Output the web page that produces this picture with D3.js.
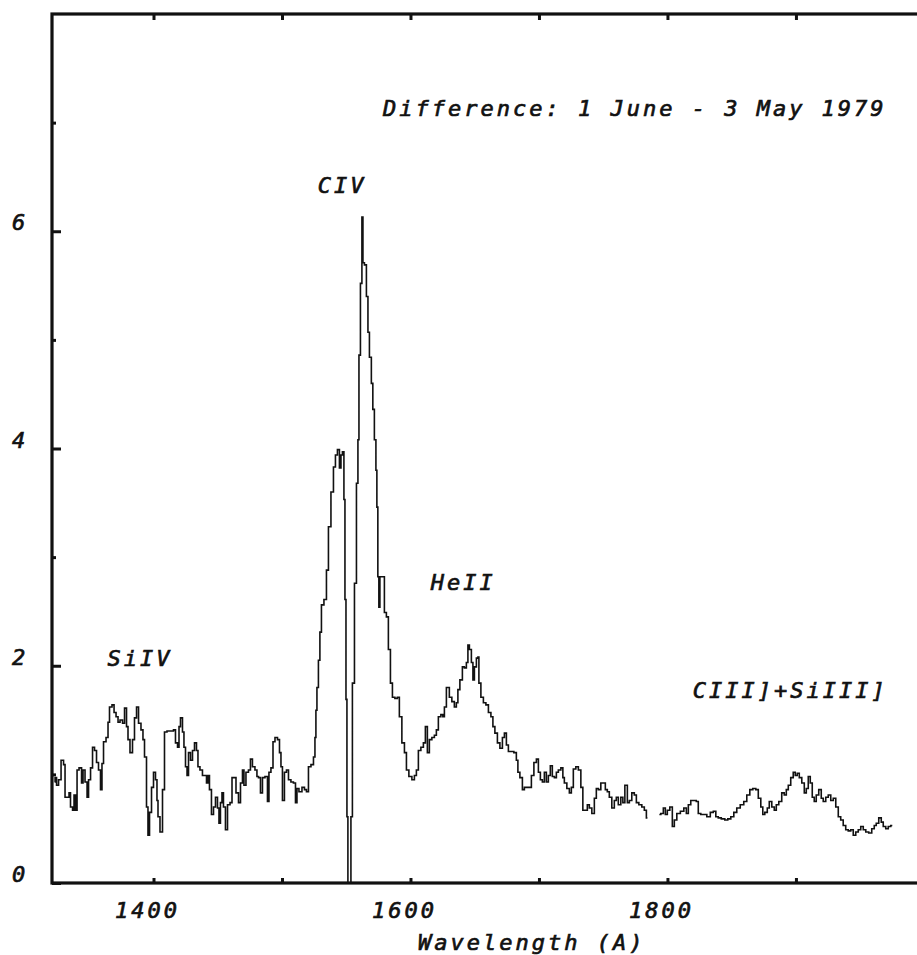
<!DOCTYPE html>
<html>
<head>
<meta charset="utf-8">
<script src="https://cdn.jsdelivr.net/npm/d3@7"></script>
<style>
  html, body { margin: 0; padding: 0; background: #fff; }
  svg { display: block; }
  text { font-family: "DejaVu Sans Mono", monospace; font-style: italic; fill: #111; stroke: #111; stroke-width: 0.7px; letter-spacing: 3px; }
</style>
</head>
<body>
<svg id="chart" width="917" height="955"></svg>
<script>
// Difference spectrum, wavelength in Angstrom, flux in plot units
const wavelength = [
  1323.0,1323.8,1325.3,1326.9,1329.2,1330.8,1331.5,1333.9,1334.6,1336.2,1337.8,1338.5,1340.1,1340.9,1343.2,1344.8,1345.5,1347.9,1348.7,1350.2,
  1351.8,1353.3,1354.9,1356.4,1358.0,1359.5,1360.3,1361.9,1364.2,1365.0,1366.5,1368.9,1369.7,1372.0,1372.8,1375.1,1376.7,1378.2,1379.8,1380.5,
  1382.9,1384.4,1386.0,1387.6,1389.1,1391.4,1392.2,1393.8,1395.3,1396.1,1397.7,1399.2,1400.8,1402.3,1403.1,1403.9,1406.2,1407.8,1409.3,1411.7,
  1414.8,1416.3,1417.9,1419.5,1420.2,1421.8,1423.3,1424.1,1425.7,1426.5,1428.0,1429.6,1431.1,1432.7,1434.2,1435.0,1437.3,1438.9,1440.5,1442.0,
  1442.8,1444.3,1445.9,1447.5,1449.0,1450.6,1451.3,1452.9,1453.7,1455.2,1456.8,1458.4,1460.7,1461.5,1463.0,1465.4,1466.9,1468.5,1470.0,1470.8,
  1473.1,1474.7,1476.2,1477.8,1480.1,1480.9,1482.5,1484.0,1485.6,1487.9,1489.5,1490.2,1492.6,1493.4,1495.7,1497.3,1498.8,1499.6,1501.1,1502.7,
  1504.3,1505.8,1508.1,1509.7,1511.3,1512.0,1514.4,1516.7,1518.3,1519.8,1521.4,1523.7,1525.3,1526.0,1526.8,1527.6,1529.1,1529.9,1531.5,1533.8,
  1535.4,1536.9,1539.3,1540.8,1542.4,1543.9,1545.5,1546.3,1547.8,1548.6,1549.4,1550.2,1550.9,1551.7,1553.3,1554.0,1555.6,1557.2,1558.7,1559.5,
  1560.3,1561.8,1562.6,1563.4,1564.9,1566.5,1567.3,1568.8,1570.3,1571.1,1572.7,1573.5,1574.2,1575.0,1575.8,1576.6,1578.9,1580.5,1582.0,1583.6,
  1585.2,1586.7,1589.0,1590.6,1592.1,1594.5,1596.1,1597.6,1599.9,1602.3,1603.8,1605.4,1606.9,1609.3,1610.8,1612.4,1613.9,1615.5,1617.8,1619.4,
  1620.9,1622.5,1624.8,1625.6,1627.2,1628.7,1629.5,1631.0,1633.4,1634.9,1636.5,1637.3,1639.6,1641.2,1642.7,1644.3,1645.1,1646.6,1648.2,1649.0,
  1650.5,1652.1,1652.9,1653.6,1656.0,1657.5,1659.9,1661.4,1663.8,1664.5,1666.9,1668.4,1670.8,1672.3,1673.9,1675.4,1677.0,1679.3,1681.6,1683.2,
  1684.0,1686.3,1687.9,1689.4,1691.0,1693.3,1694.9,1697.2,1698.8,1700.3,1701.9,1703.4,1705.0,1706.5,1708.1,1709.6,1711.2,1712.8,1714.3,1715.9,
  1718.2,1719.0,1720.5,1722.9,1724.4,1726.0,1727.5,1729.9,1731.4,1733.8,1734.5,1736.9,1738.4,1740.0,1742.3,1743.9,1745.4,1747.0,1749.3,1750.9,
  1752.4,1754.0,1755.5,1757.9,1759.4,1761.0,1762.5,1764.9,1765.7,1768.0,1769.6,1771.1,1773.4,1775.0,1776.6,1778.9,1781.2,1782.8,1784.4,1789.0,
  1793.7,1796.0,1797.6,1799.1,1800.7,1803.0,1804.6,1806.1,1808.5,1811.6,1813.9,1815.5,1817.0,1819.3,1821.7,1823.2,1824.8,1827.1,1829.5,1831.8,
  1834.9,1836.5,1838.8,1840.3,1843.5,1845.8,1848.1,1850.5,1852.8,1855.1,1858.2,1860.6,1862.9,1865.3,1867.6,1869.9,1871.5,1873.8,1874.6,1876.9,
  1878.5,1880.0,1882.4,1883.9,1885.5,1887.8,1890.1,1891.7,1893.3,1894.8,1897.1,1898.7,1900.2,1901.8,1903.4,1905.7,1907.3,1908.8,1910.4,1911.9,
  1913.5,1915.0,1916.6,1918.9,1920.5,1922.0,1924.4,1925.9,1928.3,1929.8,1932.2,1933.7,1936.0,1937.6,1939.9,1941.5,1943.8,1945.4,1947.7,1949.3,
  1951.6,1953.2,1955.5,1957.8,1960.2,1961.7,1963.3,1965.6,1967.2,1968.7,1971.1,1972.6,1975.0
];
const flux = [
  0.93,0.97,0.90,0.95,1.13,1.09,0.79,0.79,0.83,0.70,0.67,0.81,0.67,1.04,1.06,0.92,1.04,0.93,0.79,0.95,
  1.06,1.25,1.22,1.11,1.04,0.86,1.10,1.30,1.34,1.48,1.62,1.64,1.57,1.53,1.48,1.50,1.47,1.61,1.44,1.32,
  1.20,1.32,1.52,1.62,1.47,1.41,1.32,1.16,0.70,0.44,0.65,0.88,1.02,0.95,0.76,0.61,0.47,0.86,1.39,1.40,
  1.40,1.41,1.29,1.25,1.44,1.52,1.39,1.25,1.07,0.99,1.20,1.13,1.22,1.29,1.22,1.07,1.04,0.99,0.99,0.92,
  0.99,0.86,0.63,0.70,0.79,0.69,0.55,0.74,0.83,0.70,0.49,0.72,0.74,0.97,0.97,0.83,0.74,0.92,1.04,0.90,
  1.02,1.04,1.14,1.07,1.04,0.98,0.97,0.83,0.97,0.98,0.75,1.02,1.06,1.30,1.34,1.32,1.20,1.07,0.76,1.02,
  1.04,0.95,0.93,0.92,0.74,0.87,0.84,0.88,0.86,0.84,1.07,1.09,1.16,1.34,1.59,1.80,2.05,2.31,2.56,2.61,
  2.88,3.28,3.60,3.83,3.94,3.99,3.82,3.94,3.97,3.53,2.61,1.69,0.61,0.00,0.00,0.61,1.84,2.76,3.68,4.08,
  4.86,5.52,6.13,5.71,5.69,5.40,5.07,4.84,4.60,4.36,4.08,3.80,3.46,2.82,2.54,2.82,2.82,2.49,2.45,2.15,
  1.84,1.71,1.70,1.71,1.53,1.29,1.20,1.04,0.98,0.95,0.99,1.04,1.22,1.25,1.29,1.44,1.20,1.32,1.34,1.36,
  1.41,1.53,1.55,1.53,1.62,1.80,1.80,1.71,1.67,1.62,1.66,1.78,1.87,1.99,1.98,2.03,2.19,2.15,2.03,1.87,
  1.99,2.07,2.08,1.84,1.71,1.66,1.64,1.57,1.53,1.44,1.38,1.29,1.24,1.34,1.38,1.27,1.21,1.21,1.20,1.13,
  1.02,0.97,0.86,0.88,0.88,0.88,0.99,1.11,1.14,1.02,0.95,0.93,1.02,0.93,0.99,1.08,0.98,0.97,1.02,1.04,
  1.06,0.97,0.92,0.87,0.83,0.88,1.05,1.07,1.04,0.88,0.67,0.67,0.72,0.69,0.64,0.78,0.87,0.86,0.92,0.92,
  0.86,0.84,0.79,0.69,0.76,0.79,0.72,0.79,0.74,0.90,0.74,0.76,0.83,0.81,0.74,0.72,0.70,0.67,0.60,null,
  0.63,0.64,0.69,0.63,0.67,0.70,0.52,0.58,0.64,0.66,0.69,0.64,0.72,0.76,0.76,0.75,0.64,0.63,0.63,0.61,
  0.65,0.66,0.61,0.60,0.59,0.58,0.59,0.61,0.65,0.69,0.72,0.75,0.81,0.86,0.87,0.86,0.78,0.70,0.63,0.65,
  0.69,0.75,0.70,0.67,0.72,0.75,0.83,0.81,0.86,0.90,0.97,1.02,0.99,1.01,0.97,0.92,0.83,0.87,0.98,0.92,
  0.79,0.75,0.81,0.86,0.78,0.75,0.79,0.81,0.76,0.78,0.70,0.61,0.58,0.53,0.49,0.48,0.49,0.44,0.47,0.49,
  0.52,0.49,0.47,0.46,0.50,0.53,0.55,0.60,0.56,0.52,0.50,0.52,0.53
];

// Axis ticks and labels
const xMajorTicks = [1400, 1600, 1800];
const xMinorTicks = [1500, 1700, 1900];
const yMajorTicks = [0, 2, 4, 6];
const yMinorTicks = [1, 3, 5, 7];

// Annotations
const title = "Difference: 1 June - 3 May 1979";
const xTitle = "Wavelength (A)";
const lineLabels = [
  { text: "SiIV",         wl: 1370.5, val: 2.00 },
  { text: "CIV",          wl: 1534,   val: 6.35 },
  { text: "HeII",         wl: 1622,   val: 2.70 },
  { text: "CIII]+SiIII]", wl: 1826,   val: 1.70 }
];

const svg = d3.select("#chart");

const x = d3.scaleLinear().domain([1321, 1995]).range([52, 918]);
const y = d3.scaleLinear().domain([0, 8]).range([883, 14]);

// Spectrum trace, drawn as a histogram-style step line
const pts = wavelength.map((w, i) => ({ w, f: flux[i] }));
const line = d3.line()
  .defined(d => d.f !== null)
  .x(d => x(d.w))
  .y(d => y(d.f))
  .curve(d3.curveStep);

svg.append("path")
  .datum(pts)
  .attr("d", line)
  .attr("fill", "none")
  .attr("stroke", "#111")
  .attr("stroke-width", 1.6)
  .attr("stroke-linejoin", "miter");

// Frame
const frame = svg.append("g")
  .attr("fill", "none")
  .attr("stroke", "#111")
  .attr("stroke-width", 3.2);
frame.append("rect")
  .attr("x", x(1321)).attr("y", y(8))
  .attr("width", x(2005) - x(1321))
  .attr("height", y(0) - y(8));

// Bottom axis (ticks point inward) and top axis ticks
const xAxisBottom = d3.axisBottom(x)
  .tickValues(xMajorTicks.concat(xMinorTicks))
  .tickSizeInner(-5).tickSizeOuter(0).tickFormat("");
const xAxisTop = d3.axisTop(x)
  .tickValues(xMajorTicks.concat(xMinorTicks))
  .tickSizeInner(-6).tickSizeOuter(0).tickFormat("");
const yAxisMajor = d3.axisLeft(y)
  .tickValues(yMajorTicks)
  .tickSizeInner(-9).tickSizeOuter(0).tickFormat("");
const yAxisMinor = d3.axisLeft(y)
  .tickValues(yMinorTicks)
  .tickSizeInner(-4).tickSizeOuter(0).tickFormat("");

function styleAxis(g) {
  g.select(".domain").remove();
  g.selectAll(".tick line").attr("stroke", "#111").attr("stroke-width", 3);
}
svg.append("g").attr("transform", `translate(0,${y(0)})`).call(xAxisBottom).call(styleAxis);
svg.append("g").attr("transform", `translate(0,${y(8)})`).call(xAxisTop).call(styleAxis);
svg.append("g").attr("transform", `translate(${x(1321)},0)`).call(yAxisMajor).call(styleAxis);
svg.append("g").attr("transform", `translate(${x(1321)},0)`).call(yAxisMinor).call(styleAxis);

// Tick labels
svg.append("g").selectAll("text")
  .data(xMajorTicks)
  .join("text")
  .attr("x", d => x(d) - 6)
  .attr("y", 918)
  .attr("text-anchor", "middle")
  .attr("font-size", 22)
  .text(d => d);

svg.append("g").selectAll("text")
  .data(yMajorTicks)
  .join("text")
  .attr("x", 12)
  .attr("y", d => y(d) - 1)
  .attr("font-size", 22)
  .text(d => d);

// Axis title
svg.append("text")
  .attr("x", 418)
  .attr("y", 950)
  .attr("font-size", 22)
  .text(xTitle);

// Title
svg.append("text")
  .attr("x", 383)
  .attr("y", 116)
  .attr("font-size", 22)
  .text(title);

// Emission line identifications
svg.append("g").selectAll("text")
  .data(lineLabels)
  .join("text")
  .attr("x", d => x(d.wl) - 8)
  .attr("y", d => y(d.val))
  .attr("font-size", 22)
  .text(d => d.text);
</script>
</body>
</html>
